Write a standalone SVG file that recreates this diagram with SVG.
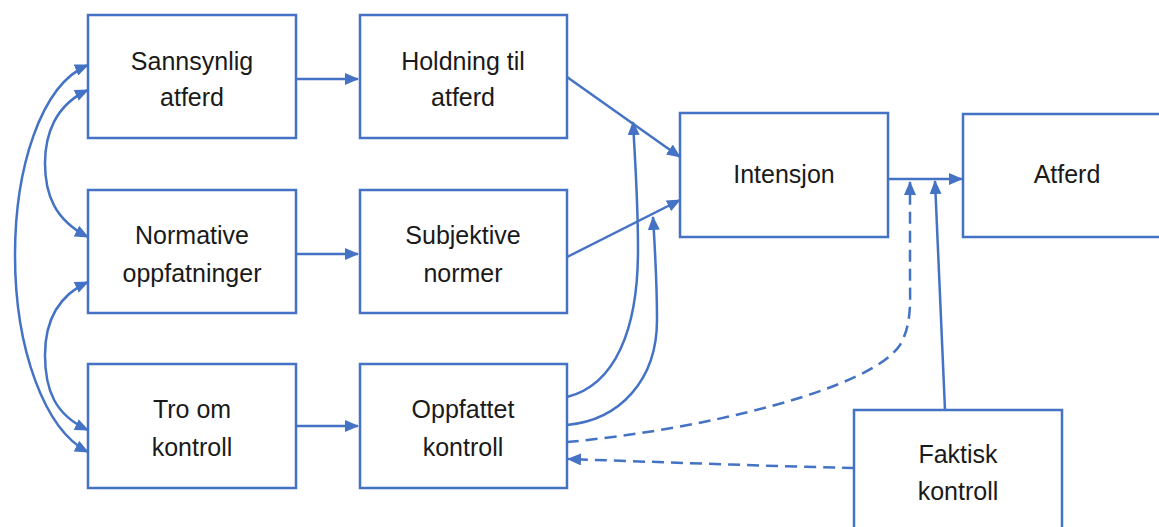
<svg xmlns="http://www.w3.org/2000/svg" width="1159" height="527" viewBox="0 0 1159 527">
<defs>
<marker id="ah" markerWidth="14" markerHeight="12" refX="13" refY="6" orient="auto-start-reverse" markerUnits="userSpaceOnUse">
<path d="M0,0 L14,6 L0,12 Z" fill="#4472C4"/>
</marker>
<style>
.box{fill:#fff;stroke:#4472C4;stroke-width:2.5}
.t{font-family:"Liberation Sans",Arial,sans-serif;font-size:25px;fill:#1a1a1a;text-anchor:middle}
.c{fill:none;stroke:#4472C4;stroke-width:2.5}
.a{marker-end:url(#ah)}
.d{marker-start:url(#ah);marker-end:url(#ah)}
.dash{stroke-dasharray:12,7}
</style>
</defs>
<rect width="1159" height="527" fill="#fff"/>
<g id="n1"><rect class="box" x="88" y="15" width="208" height="123"/><text class="t" x="192" y="70">Sannsynlig</text><text class="t" x="192" y="106">atferd</text></g>
<g id="n2"><rect class="box" x="88" y="190" width="208" height="123"/><text class="t" x="192" y="244">Normative</text><text class="t" x="192" y="282">oppfatninger</text></g>
<g id="n3"><rect class="box" x="88" y="364" width="208" height="124"/><text class="t" x="192" y="418">Tro om</text><text class="t" x="192" y="456">kontroll</text></g>
<g id="n4"><rect class="box" x="360" y="15" width="207" height="123"/><text class="t" x="463" y="70">Holdning til</text><text class="t" x="463" y="106">atferd</text></g>
<g id="n5"><rect class="box" x="360" y="190" width="207" height="123"/><text class="t" x="463" y="244">Subjektive</text><text class="t" x="463" y="282">normer</text></g>
<g id="n6"><rect class="box" x="360" y="364" width="207" height="124"/><text class="t" x="463" y="418">Oppfattet</text><text class="t" x="463" y="456">kontroll</text></g>
<g id="n7"><rect class="box" x="680" y="113" width="208" height="124"/><text class="t" x="784" y="183">Intensjon</text></g>
<g id="n8"><rect class="box" x="963" y="114" width="200" height="123"/><text class="t" x="1067" y="183">Atferd</text></g>
<g id="n9"><rect class="box" x="854" y="410" width="208" height="130"/><text class="t" x="958" y="463">Faktisk</text><text class="t" x="958" y="500">kontroll</text></g>
<g id="connectors">
<path class="c a" d="M296,79 L358,79"/>
<path class="c a" d="M296,254 L358,254"/>
<path class="c a" d="M296,426 L358,426"/>
<path class="c a" d="M567,77 L680,157"/>
<path class="c a" d="M567,257 L680,200"/>
<path class="c a" d="M888,179 L962,179"/>
<path class="c a" d="M567,397 C615,385 638,330 638,250 C638,200 635,160 633,122"/>
<path class="c a" d="M567,425 C620,420 657,380 657,320 C657,280 655,250 653,217"/>
<path class="c a dash" d="M567,442 C700,430 870,390 900,345 C912,325 910,300 910,280 L910,182"/>
<path class="c a" d="M945,410 L935,181"/>
<path class="c a dash" d="M854,468 C760,466 660,462 568,459"/>
<path class="c d" d="M88,65 C40,85 15,170 15,255 C15,350 45,430 88,452"/>
<path class="c d" d="M88,90 C55,105 45,135 45,163 C45,195 55,220 88,237"/>
<path class="c d" d="M88,282 C55,297 45,325 45,355 C45,390 55,415 88,430"/>
</g>
</svg>
